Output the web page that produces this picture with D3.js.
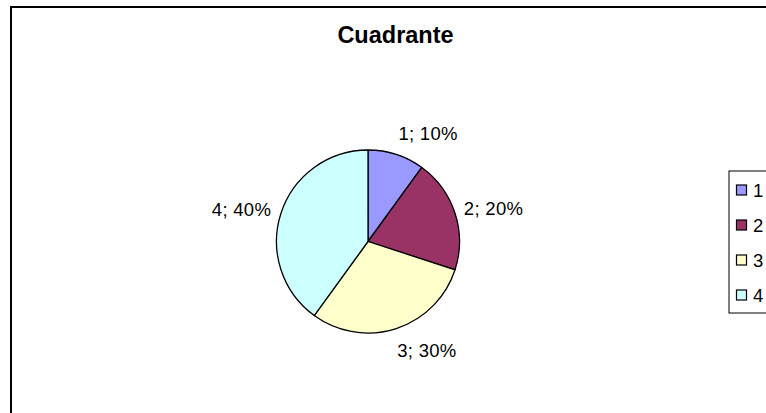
<!DOCTYPE html>
<meta charset="utf-8">
<style>
  body {
    margin: 0;
    background: #fff;
    font-family: "Liberation Sans", Arial, sans-serif;
  }
  svg text {
    fill: #000;
  }
  path.slice {
    stroke: #000;
    stroke-width: 1.3;
  }
</style>
<body>
  <div id="chart"></div>
  <script src="https://cdn.jsdelivr.net/npm/d3@7"></script>
  <script>

    // data
    var title = "Cuadrante",
        categories = ["1", "2", "3", "4"],
        values = [10, 20, 30, 40],
        colors = ["#9999FF", "#993366", "#FFFFCC", "#CCFFFF"];

    var width = 766,
        height = 413,
        cx = 368,
        cy = 241.5,
        radius = 91.5;

    // where Excel put each label: angle (deg from top) and distance from centre
    var labelAngle = [29, 75, 151.5, 284.4],
        labelDist = [124, 130, 123.5, 130.6];

    var svg = d3.select("#chart").append("svg")
                  .attr("width", width)
                  .attr("height", height);

    // chart area border (runs off the right and bottom)
    svg.append("rect")
        .attr("x", 11)
        .attr("y", 7)
        .attr("width", width + 20)
        .attr("height", height + 20)
        .attr("fill", "#fff")
        .attr("stroke", "#000")
        .attr("stroke-width", 2);

    svg.append("text")
        .attr("x", 395.5)
        .attr("y", 43)
        .attr("text-anchor", "middle")
        .style("font-weight", "bold")
        .style("font-size", "23.5px")
        .text(title);

    var total = d3.sum(values);

    var pie = d3.pie()
                .sort(null)
                .value(function(d) { return d; });

    var arc = d3.arc()
                .innerRadius(0)
                .outerRadius(radius);

    var g = svg.append("g")
                .attr("transform", "translate(" + cx + "," + cy + ")");

    g.selectAll("path.slice")
        .data(pie(values))
      .enter().append("path")
        .attr("class", "slice")
        .attr("d", arc)
        .attr("fill", function(d, i) { return colors[i]; });

    g.selectAll("text.label")
        .data(values)
      .enter().append("text")
        .attr("class", "label")
        .attr("x", function(d, i) {
          return labelDist[i] * Math.sin(labelAngle[i] * Math.PI / 180);
        })
        .attr("y", function(d, i) {
          return -labelDist[i] * Math.cos(labelAngle[i] * Math.PI / 180);
        })
        .attr("dy", "0.36em")
        .attr("text-anchor", "middle")
        .style("font-size", "18.5px")
        .style("letter-spacing", "0.3px")
        .text(function(d, i) {
          return categories[i] + "; " + Math.round(d / total * 100) + "%";
        });

    // legend
    var legend = svg.append("g")
                    .attr("transform", "translate(729,171)");

    legend.append("rect")
        .attr("x", 0)
        .attr("y", 0)
        .attr("width", 80)
        .attr("height", 142)
        .attr("fill", "#fff")
        .attr("stroke", "#000")
        .attr("stroke-width", 1);

    var items = legend.selectAll("g.item")
                  .data(categories)
                .enter().append("g")
                  .attr("transform", function(d, i) {
                    return "translate(0," + (19 + i * 35) + ")";
                  });

    items.append("rect")
        .attr("x", 7.5)
        .attr("y", -5)
        .attr("width", 10)
        .attr("height", 10)
        .attr("fill", function(d, i) { return colors[i]; })
        .attr("stroke", "#000")
        .attr("stroke-width", 1.2);

    items.append("text")
        .attr("x", 24)
        .attr("dy", "0.36em")
        .style("font-size", "18.5px")
        .text(function(d) { return d; });

  </script>
</body>
